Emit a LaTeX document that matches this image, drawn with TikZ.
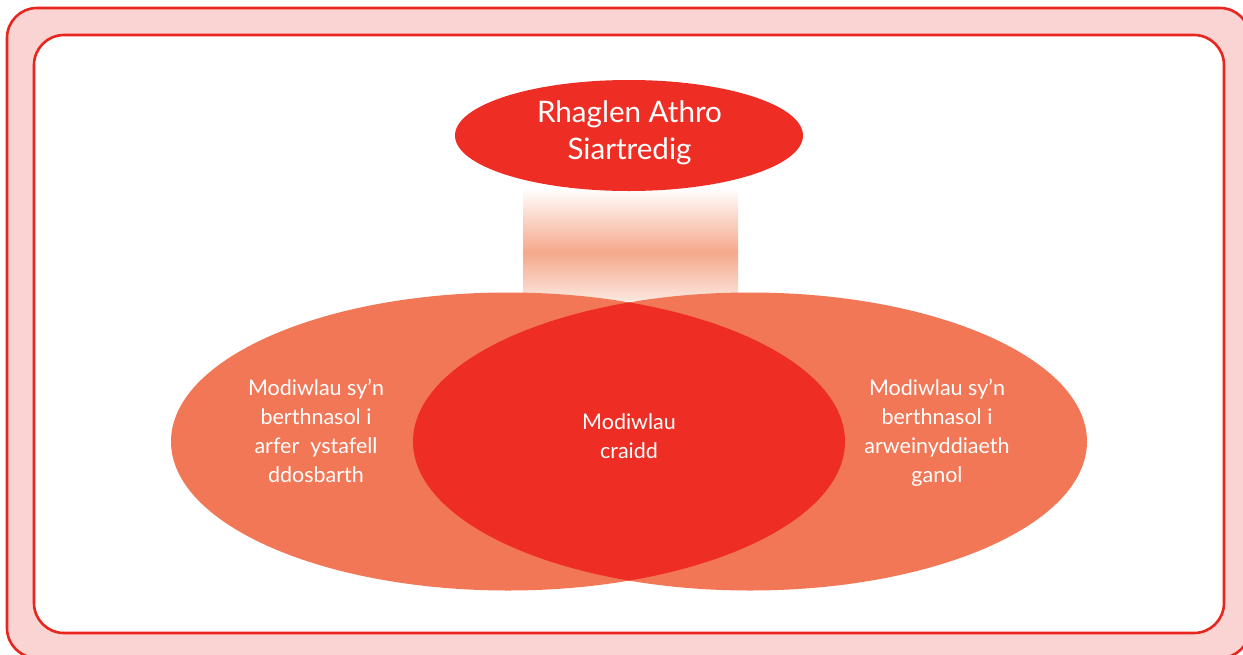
\documentclass[tikz,border=0pt]{standalone}
\usepackage{fontspec}
\setmainfont{Lato}
\definecolor{borderred}{HTML}{E8261F}
\definecolor{pinkfill}{HTML}{FAD4D2}
\definecolor{deepred}{HTML}{EE2E24}
\definecolor{salmon}{HTML}{F17756}
\definecolor{peach}{HTML}{F5A88A}
\definecolor{palepeach}{HTML}{FBE6DD}
\tikzset{
  frame/.style={draw=borderred, line width=2.6pt, rounded corners=30pt},
  bigtext/.style={text=white, align=center, inner sep=0pt, font=\fontsize{29.6}{37}\selectfont},
  smalltext/.style={text=white, align=center, inner sep=0pt, font=\fontsize{21.5}{29}\selectfont},
}
\begin{document}
\begin{tikzpicture}[x=1pt,y=-1pt]
\useasboundingbox (0,0) rectangle (1243,654);
% frames
\draw[frame, fill=pinkfill] (7,8) rectangle (1250,658);
\draw[frame, fill=white] (34,35) rectangle (1224,633);
% gradient band
\shade[top color=white, bottom color=peach] (523,188) rectangle (738,252.5);
\shade[top color=peach, bottom color=palepeach] (523,252) rectangle (738,300);
% big ellipses
\fill[salmon] (508,441.5) ellipse [x radius=337pt, y radius=149pt];
\fill[salmon] (750,441.5) ellipse [x radius=337pt, y radius=149pt];
\begin{scope}
  \clip (508,441.5) ellipse [x radius=337pt, y radius=149pt];
  \fill[deepred] (750,441.5) ellipse [x radius=337pt, y radius=149pt];
\end{scope}
% top ellipse
\fill[deepred] (629,135.5) ellipse [x radius=174pt, y radius=55.5pt];
% texts
\node[bigtext] (top) at (629.5,133) {Rhaglen Athro\\Siartredig};
\node[smalltext] (left) at (316,431) {Modiwlau sy’n\\berthnasol i\\arfer\ \ ystafell\\ddosbarth};
\node[smalltext] (core) at (629,436) {Modiwlau\\craidd};
\node[smalltext] (right) at (937,433) {Modiwlau sy’n\\berthnasol i\\arweinyddiaeth\\ganol};
\end{tikzpicture}
\end{document}
